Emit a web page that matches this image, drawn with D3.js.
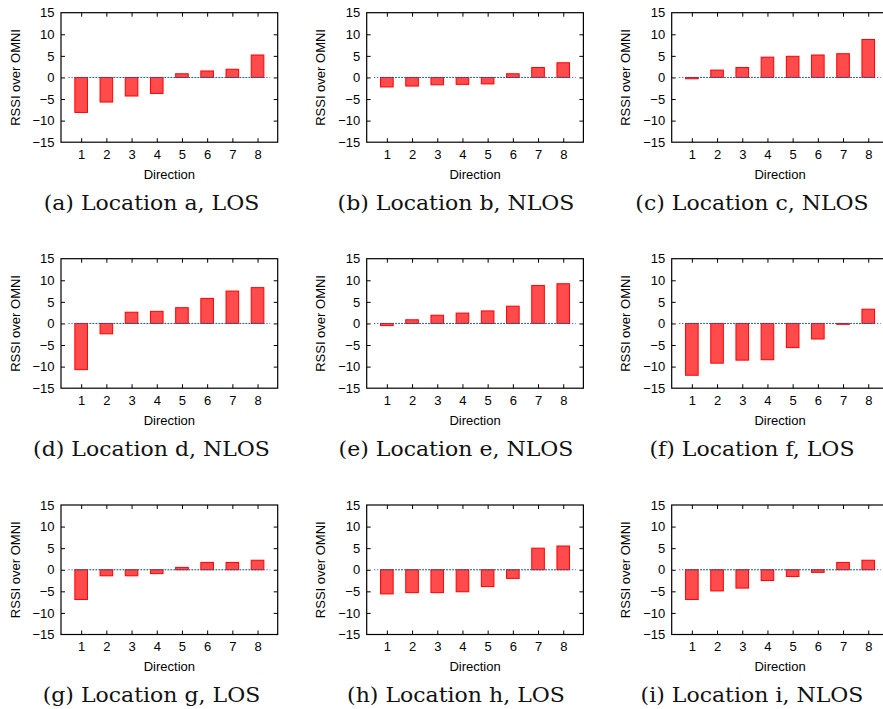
<!DOCTYPE html>
<html>
<head>
<meta charset="utf-8">
<script src="https://cdn.jsdelivr.net/npm/d3@7"></script>
<style>
  body { margin: 0; background: #fff; }
  svg { display: block; }
  .tick text { font-family: "Liberation Sans", Arial, sans-serif; font-size: 13px; fill: #000; }
  .tick line { stroke: #000; stroke-width: 1; }
  .lbl { font-family: "Liberation Sans", Arial, sans-serif; font-size: 13px; fill: #000; }
  .cap { font-family: "DejaVu Serif", serif; font-size: 20px; fill: #111; }
</style>
</head>
<body>
<svg id="Chart"></svg>
<script>
// directions on the x axis, RSSI gain (dB) over the omni antenna
let directions = [1, 2, 3, 4, 5, 6, 7, 8];
let yTicks = [-15, -10, -5, 0, 5, 10, 15];

let locA = [-8.1, -5.7, -4.3, -3.7, 0.85, 1.5, 1.9, 5.2];
let locB = [-2.2, -2.0, -1.7, -1.6, -1.5, 0.85, 2.3, 3.4];
let locC = [-0.3, 1.7, 2.3, 4.7, 4.9, 5.2, 5.5, 8.8];
let locD = [-10.7, -2.4, 2.6, 2.8, 3.65, 5.8, 7.5, 8.3];
let locE = [-0.5, 0.85, 1.9, 2.4, 2.9, 4.0, 8.8, 9.2];
let locF = [-12.0, -9.2, -8.5, -8.4, -5.6, -3.6, -0.2, 3.3];
let locG = [-6.9, -1.4, -1.4, -0.9, 0.55, 1.7, 1.7, 2.2];
let locH = [-5.6, -5.3, -5.3, -5.1, -3.9, -2.0, 5.0, 5.5];
let locI = [-6.9, -4.9, -4.25, -2.5, -1.55, -0.6, 1.7, 2.2];

let captions = [
  '(a) Location a, LOS', '(b) Location b, NLOS', '(c) Location c, NLOS',
  '(d) Location d, NLOS', '(e) Location e, NLOS', '(f) Location f, LOS',
  '(g) Location g, LOS', '(h) Location h, LOS', '(i) Location i, NLOS'
];

let panels = [locA, locB, locC, locD, locE, locF, locG, locH, locI];

function getConfig() {
  let width = 883;
  let height = 709;
  let plotWidth = 216.7;
  let plotHeight = 129.5;
  let colLeft = [61, 366.7, 671.7];
  let rowTop = [12.7, 258.7, 505];
  let capCenter = [151.5, 456, 752];
  let container = d3.select('#Chart');
  container.attr('width', width).attr('height', height);
  return { width, height, plotWidth, plotHeight, colLeft, rowTop, capCenter, container };
}

function drawPanel(values, caption, i, config) {
  let { plotWidth, plotHeight, colLeft, rowTop, capCenter, container } = config;
  let left = colLeft[i % 3];
  let top = rowTop[Math.floor(i / 3)];

  let xScale = d3.scaleLinear().domain([0.2, 8.8]).range([0, plotWidth]);
  let yScale = d3.scaleLinear().domain([-15, 15]).range([plotHeight, 0]);

  let g = container.append('g')
    .attr('transform', `translate(${left},${top})`);

  // bars
  let barW = xScale(0.5) - xScale(0);
  g.selectAll('.bar').data(values)
    .enter().append('rect')
    .attr('class', 'bar')
    .attr('x', (d, j) => xScale(directions[j]) - barW / 2)
    .attr('y', d => yScale(Math.max(d, 0)))
    .attr('width', barW)
    .attr('height', d => Math.abs(yScale(d) - yScale(0)))
    .attr('fill', '#ff4b4b')
    .attr('stroke', '#ff0000')
    .attr('stroke-width', 1);

  // zero lines
  g.append('line')
    .attr('x1', xScale(0.75)).attr('x2', xScale(8.25))
    .attr('y1', yScale(0)).attr('y2', yScale(0))
    .attr('stroke', '#1a9a3a').attr('stroke-width', 1)
    .attr('stroke-dasharray', '1.5,1.5');
  g.append('line')
    .attr('x1', xScale(0.5)).attr('x2', xScale(8.5))
    .attr('y1', yScale(0)).attr('y2', yScale(0))
    .attr('stroke', '#2a2aff').attr('stroke-width', 1)
    .attr('stroke-dasharray', '1,2');

  // axes, ticks pointing inward, mirrored on top and right
  let axisY = d3.axisLeft(yScale).tickValues(yTicks).tickSize(-4).tickPadding(6.5);
  let axisX = d3.axisBottom(xScale).tickValues(directions).tickSize(-4).tickPadding(7.5);
  let gy = g.append('g').call(axisY);
  let gx = g.append('g').attr('transform', `translate(0,${plotHeight})`).call(axisX);
  let gr = g.append('g').attr('transform', `translate(${plotWidth},0)`)
    .call(d3.axisRight(yScale).tickValues(yTicks).tickSize(-4).tickFormat(''));
  let gt = g.append('g')
    .call(d3.axisTop(xScale).tickValues(directions).tickSize(-4).tickFormat(''));
  [gy, gx, gr, gt].forEach(a => a.select('.domain').remove());
  gy.selectAll('.tick').filter(d => d === 15 || d === -15).select('line').remove();
  gr.selectAll('.tick').filter(d => d === 15 || d === -15).select('line').remove();

  g.append('rect')
    .attr('width', plotWidth).attr('height', plotHeight)
    .attr('fill', 'none').attr('stroke', '#000').attr('stroke-width', 1.2);

  g.append('text').attr('class', 'lbl')
    .attr('x', plotWidth / 2).attr('y', plotHeight + 36.7)
    .attr('text-anchor', 'middle')
    .text('Direction');

  g.append('text').attr('class', 'lbl')
    .attr('transform', `translate(-41.4,${plotHeight / 2}) rotate(-90)`)
    .attr('text-anchor', 'middle')
    .text('RSSI over OMNI');

  // the caption font in the source is wider than DejaVu Serif, stretch a bit
  let cap = container.append('text').attr('class', 'cap')
    .attr('x', capCenter[i % 3]).attr('y', top + plotHeight + 67.5)
    .attr('text-anchor', 'middle')
    .text(caption);
  let natural = cap.node().getComputedTextLength();
  cap.attr('textLength', natural * 1.1).attr('lengthAdjust', 'spacingAndGlyphs');
}

function drawChart() {
  let config = getConfig();
  panels.forEach((values, i) => drawPanel(values, captions[i], i, config));
}

drawChart();
</script>
</body>
</html>
